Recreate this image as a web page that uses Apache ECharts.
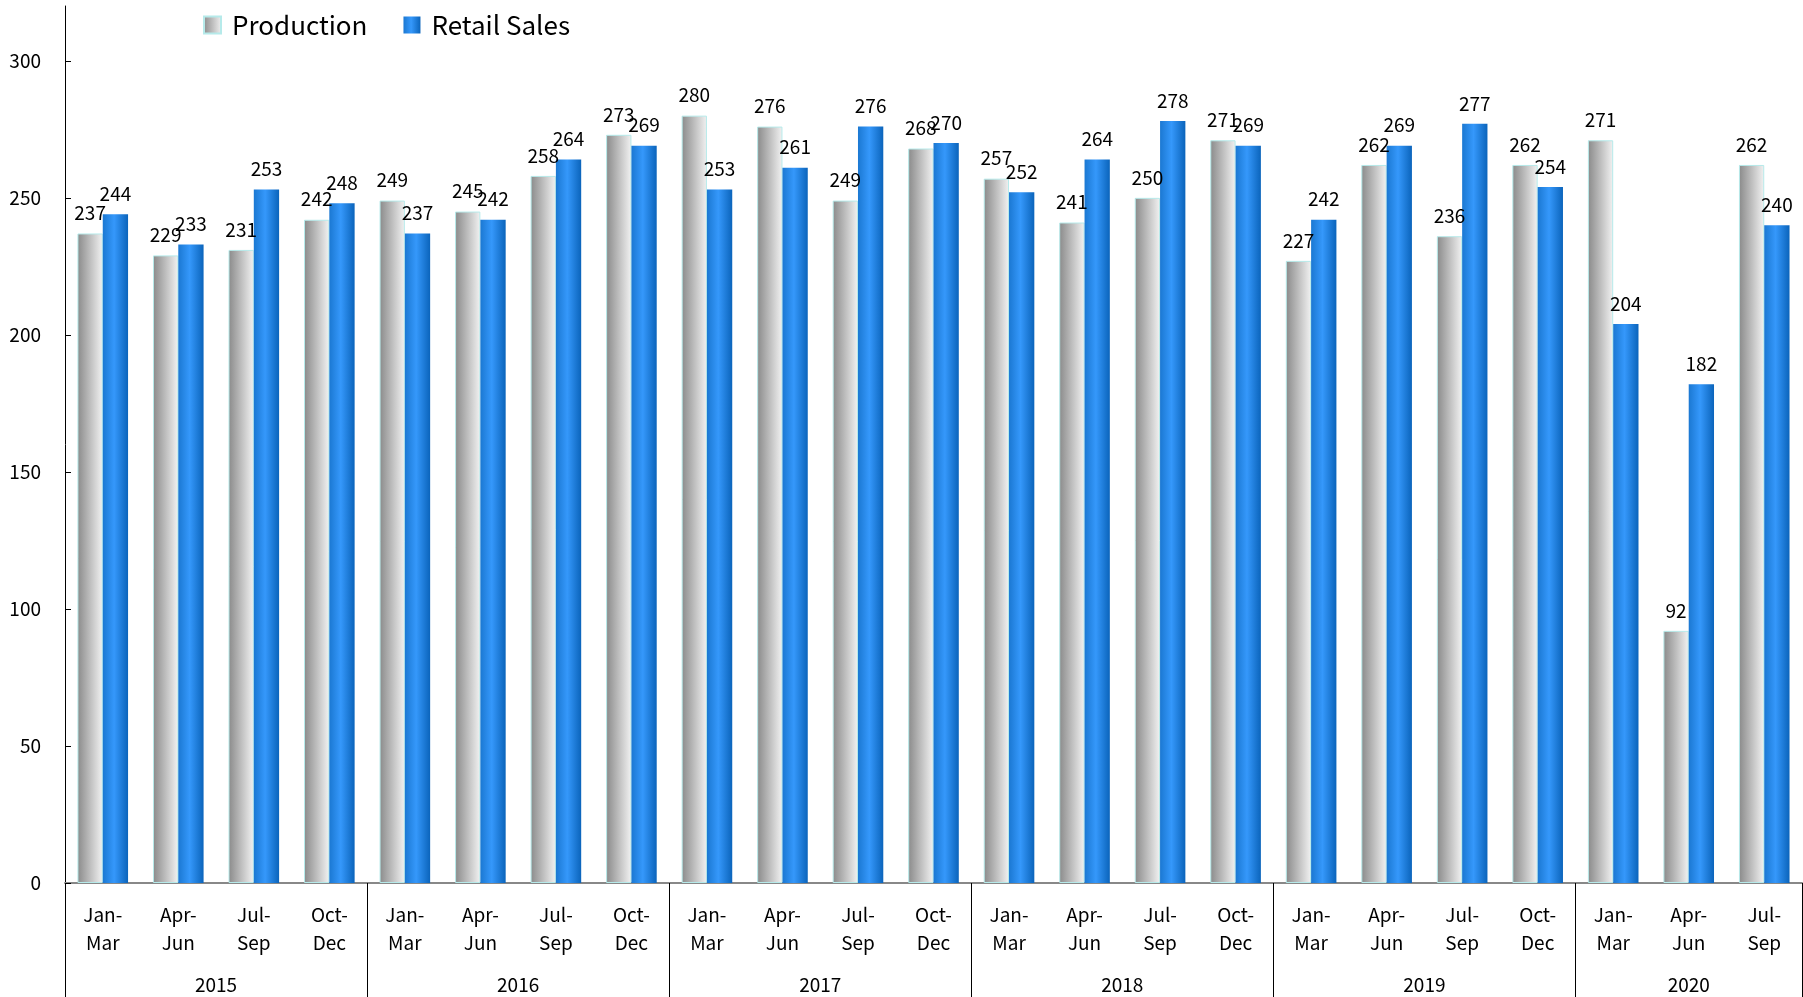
<!DOCTYPE html>
<html>
<head>
<meta charset="utf-8">
<script src="https://cdn.jsdelivr.net/npm/echarts@6/dist/echarts.min.js"></script>
<style>
  html, body { margin: 0; padding: 0; background: #fff; }
  #chart { width: 1803px; height: 997px; }
</style>
</head>
<body>
<div id="chart"></div>
<script>
const quarters = ['Jan-\nMar', 'Apr-\nJun', 'Jul-\nSep', 'Oct-\nDec']
const years = ['2015', '2016', '2017', '2018', '2019', '2020']
const quartersPerYear = [4, 4, 4, 4, 4, 3]
const production = [237, 229, 231, 242, 249, 245, 258, 273, 280, 276, 249, 268, 257, 241, 250, 271, 227, 262, 236, 262, 271, 92, 262]
const retailSales = [244, 233, 253, 248, 237, 242, 264, 269, 253, 261, 276, 270, 252, 264, 278, 269, 242, 269, 277, 254, 204, 182, 240]
const yTicks = [0, 50, 100, 150, 200, 250, 300]

const FONT = '"Noto Sans CJK JP", "Noto Sans", sans-serif'

// quarter categories
const categories = []
quartersPerYear.forEach(n => {
  for (let i = 0; i < n; i++) categories.push(quarters[i])
})

// year axis: half-quarter points, ticks at year bounds, label in middle
const yearPoints = new Array(categories.length * 2 + 1).fill('')
const yearBounds = []
const yearCenters = []
let start = 0
quartersPerYear.forEach((n, i) => {
  yearBounds.push(start * 2)
  yearCenters.push(start * 2 + n)
  yearPoints[start * 2 + n] = years[i]
  start += n
})
yearBounds.push(start * 2)

const chart = echarts.init(document.getElementById('chart'))

const option = {
  animation: false,
  textStyle: { fontFamily: FONT },
  legend: {
    left: 198,
    top: 7,
    icon: 'rect',
    itemWidth: 17,
    itemHeight: 17,
    itemGap: 36,
    textStyle: { fontSize: 26, color: '#000', fontFamily: FONT, padding: [0, 0, 0, 6] },
    data: ['Production', 'Retail Sales']
  },
  grid: { left: 65, right: 1, top: 6, bottom: 114, containLabel: false },
  xAxis: [
    {
      type: 'category',
      data: categories,
      position: 'bottom',
      axisLine: { lineStyle: { color: '#888', width: 2 } },
      axisTick: { interval: 0, length: 72, lineStyle: { color: '#000', width: 1 } },
      axisLabel: {
        interval: 0,
        margin: 18,
        fontSize: 19,
        lineHeight: 28,
        color: '#000',
        fontFamily: FONT
      }
    },
    {
      type: 'category',
      data: yearPoints,
      position: 'bottom',
      offset: 0,
      boundaryGap: false,
      axisLine: { show: false },
      axisTick: {
        length: 114,
        interval: (idx) => yearBounds.includes(idx),
        lineStyle: { color: '#000', width: 1 }
      },
      axisLabel: {
        interval: (idx) => yearCenters.includes(idx),
        margin: 92,
        fontSize: 19,
        color: '#000',
        fontFamily: FONT
      }
    }
  ],
  yAxis: {
    type: 'value',
    min: 0,
    max: 320,
    interval: 50,
    axisLine: { show: true, lineStyle: { color: '#000', width: 1 } },
    axisTick: { show: true, inside: true, length: 6, customValues: yTicks, lineStyle: { color: '#000' } },
    axisLabel: { customValues: yTicks, margin: 24, fontSize: 19, color: '#000', fontFamily: FONT },
    splitLine: { show: false }
  },
  series: [
    {
      name: 'Production',
      type: 'bar',
      data: production,
      barGap: '0%',
      barCategoryGap: '33%',
      itemStyle: {
        color: {
          type: 'linear', x: 0, y: 0, x2: 1, y2: 0,
          colorStops: [
            { offset: 0, color: '#8a8a8a' },
            { offset: 1, color: '#f2f2f2' }
          ]
        },
        borderColor: '#b6eaea',
        borderWidth: 1
      },
      label: {
        show: true,
        position: 'top',
        distance: 11,
        fontSize: 19,
        color: '#000',
        fontFamily: FONT
      }
    },
    {
      name: 'Retail Sales',
      type: 'bar',
      data: retailSales,
      barGap: '0%',
      barCategoryGap: '33%',
      itemStyle: {
        color: {
          type: 'linear', x: 0, y: 0, x2: 1, y2: 0,
          colorStops: [
            { offset: 0, color: '#1b78d2' },
            { offset: 0.45, color: '#3598fb' },
            { offset: 1, color: '#0b64bb' }
          ]
        }
      },
      label: {
        show: true,
        position: 'top',
        distance: 11,
        fontSize: 19,
        color: '#000',
        fontFamily: FONT
      }
    }
  ]
}

chart.setOption(option)
</script>
</body>
</html>
